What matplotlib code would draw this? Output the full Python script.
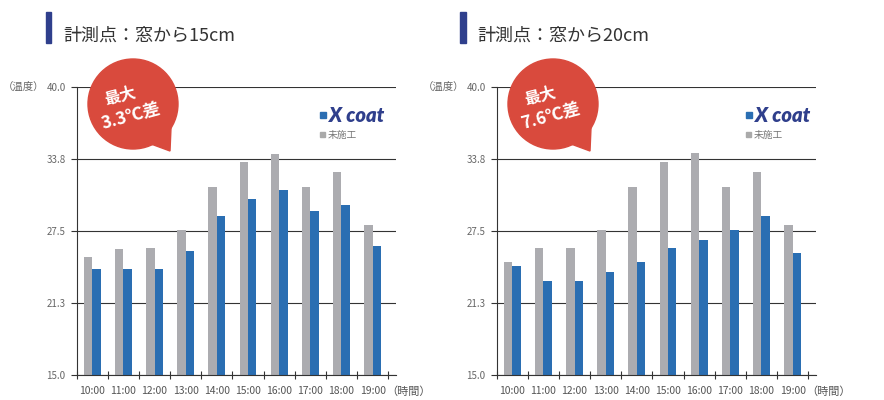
import numpy as np
import matplotlib
from matplotlib import pyplot as plt
from matplotlib.patches import Circle, Polygon, Rectangle
plt.switch_backend('agg')

plt.rcParams['font.family'] = ['Noto Sans CJK JP', 'DejaVu Sans']

hours = ['10:00', '11:00', '12:00', '13:00', '14:00',
         '15:00', '16:00', '17:00', '18:00', '19:00']
ytick_vals = [15.0, 21.25, 27.5, 33.75, 40.0]
ytick_labels = ['15.0', '21.3', '27.5', '33.8', '40.0']

# 窓から15cm
untreated_15 = [25.2, 25.9, 26.0, 27.6, 31.3, 33.5, 34.2, 31.3, 32.6, 28.0]
xcoat_15 = [24.2, 24.2, 24.2, 25.8, 28.8, 30.3, 31.1, 29.2, 29.8, 26.2]
# 窓から20cm
untreated_20 = [24.8, 26.0, 26.0, 27.6, 31.3, 33.5, 34.3, 31.3, 32.6, 28.0]
xcoat_20 = [24.5, 23.2, 23.2, 23.9, 24.8, 26.0, 26.7, 27.6, 28.8, 25.6]

titles = ['計測点：窓から15cm', '計測点：窓から20cm']
badges = ['3.3℃差', '7.6℃差']

GRAY = '#acacb0'
BLUE = '#2a6eb2'
NAVY = '#2f3f8c'
RED = '#d94a3d'
W, H = 884, 400

fig = plt.figure(figsize=(W / 100, H / 100), dpi=100)

panels = [
    dict(x0=76.7, untreated=untreated_15, xcoat=xcoat_15, bar=45.5, title=63,
         bubble=133, legend=320),
    dict(x0=496.7, untreated=untreated_20, xcoat=xcoat_20, bar=460, title=477,
         bubble=553, legend=746),
]

x = np.arange(len(hours))
w = 0.27

for p, title, badge in zip(panels, titles, badges):
    ax = fig.add_axes([p['x0'] / W, 25 / H, 319.3 / W, 288 / H])
    ax.bar(x - w / 2, p['untreated'], width=w, color=GRAY, zorder=2)
    ax.bar(x + w / 2, p['xcoat'], width=w, color=BLUE, zorder=2)
    ax.set_xlim(-0.5, 9.75)
    ax.set_ylim(15, 40)
    ax.set_yticks(ytick_vals)
    ax.set_yticklabels(ytick_labels)
    ax.set_xticks(x)
    ax.set_xticklabels(hours)
    ax.set_xticks(np.arange(-0.5, 10, 1.0), minor=True)
    ax.tick_params(axis='x', which='major', length=0, pad=8,
                   labelsize=7.5, labelcolor='#555555')
    ax.tick_params(axis='x', which='minor', direction='inout', length=6,
                   width=0.8, color='#333333')
    ax.tick_params(axis='y', length=4, width=0.8, color='#333333',
                   labelsize=7, labelcolor='#666666', pad=4)
    for s in ['top', 'right']:
        ax.spines[s].set_visible(False)
    for s in ['left', 'bottom']:
        ax.spines[s].set_color('#333333')
        ax.spines[s].set_linewidth(0.8)
    for v in ytick_vals:
        ax.axhline(v, color='#333333', lw=0.8, zorder=1)
    ax.annotate('（温度）', xy=(0, 40), xycoords=('axes fraction', 'data'),
                xytext=(-23, 0), textcoords='offset points',
                ha='right', va='center', fontsize=7.5, color='#666666')
    ax.annotate('（時間）', xy=(1, 0), xycoords='axes fraction',
                xytext=(-7, -12), textcoords='offset points',
                ha='left', va='center', fontsize=8, color='#555555')

    # overlay in pixel coordinates for decorations
    ov = fig.add_axes([0, 0, 1, 1], zorder=5)
    ov.set_xlim(0, W)
    ov.set_ylim(H, 0)
    ov.axis('off')
    ov.patch.set_alpha(0)

    ov.add_patch(Rectangle((p['bar'], 12), 5.5, 31, color=NAVY))
    ov.text(p['title'], 36, title, fontsize=13, color='#333333',
            ha='left', va='center')

    cx, cy, r = p['bubble'], 104, 45
    ov.add_patch(Circle((cx, cy), r, color=RED))
    ov.add_patch(Polygon([(cx + 18, cy + 40), (cx + 38, cy + 24),
                          (cx + 37, cy + 47)], closed=True, color=RED))
    ov.text(cx - 13, cy - 9, '最大', fontsize=11.5, color='white',
            fontweight='bold', ha='center', va='center', rotation=15)
    ov.text(cx - 2, cy + 13, badge, fontsize=12.5, color='white',
            fontweight='bold', ha='center', va='center', rotation=15)

    lx = p['legend']
    ov.add_patch(Rectangle((lx, 112), 6, 6, color=BLUE))
    ov.text(lx + 9, 115, 'X coat', fontsize=14.5, color=NAVY,
            fontweight='heavy', style='italic', family='Lato',
            ha='left', va='center')
    ov.add_patch(Rectangle((lx, 132), 5, 5, color='#aaaaaa'))
    ov.text(lx + 8, 134.5, '未施工', fontsize=7, color='#777777',
            ha='left', va='center')

fig.savefig('out.png', dpi=100)
